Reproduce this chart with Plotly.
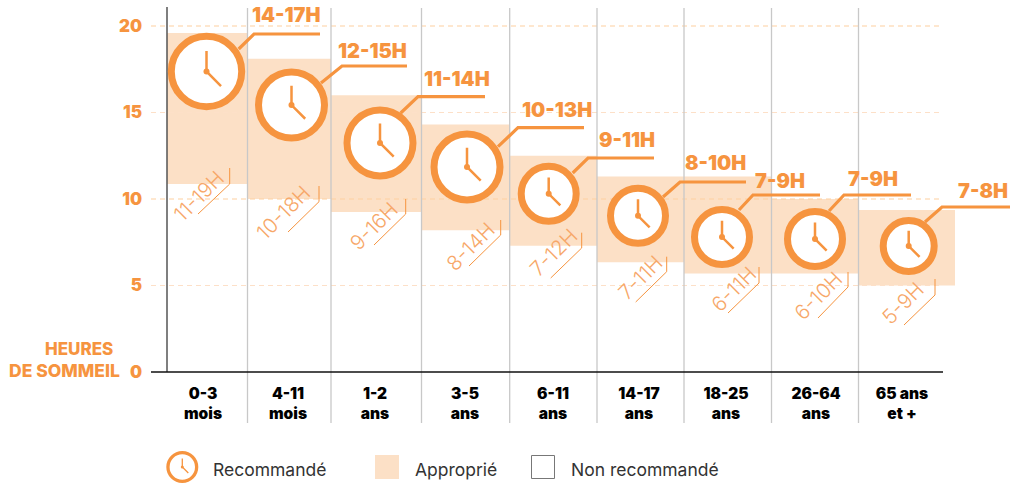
import plotly.graph_objects as go

# ---- data ----
AGE_LABELS = ["0-3<br>mois", "4-11<br>mois", "1-2<br>ans", "3-5<br>ans", "6-11<br>ans",
              "14-17<br>ans", "18-25<br>ans", "26-64<br>ans", "65 ans<br>et +"]
APPROP_LOW = [10.87, 10.0, 9.25, 8.2, 7.3, 6.35, 5.7, 5.7, 5.0]
APPROP_HIGH = [19.6, 18.1, 16.0, 14.3, 12.5, 11.3, 11.3, 10.0, 9.36]
APPROP_TEXT = ["11-19H", "10-18H", "9-16H", "8-14H", "7-12H", "7-11H", "6-11H", "6-10H", "5-9H"]
REC_TEXT = ["14-17H", "12-15H", "11-14H", "10-13H", "9-11H", "8-10H", "7-9H", "7-9H", "7-8H"]
REC_MARK = [17.37, 15.43, 13.24, 11.85, 10.3, 9.03, 7.8, 7.69, 7.28]
Y_TICKS = [0, 5, 10, 15, 20]

# ---- layout (page pixels) ----
EDGES = [167, 247.5, 331, 421.5, 509.7, 597, 684, 771.5, 858.5, 955]
TICK_X = [203, 288, 375, 465, 553, 639, 726, 816, 902]
CLOCK_X = [206.5, 291.5, 380, 467, 548.7, 638, 722, 815, 908.7]
CLOCK_R = [38.7, 36.5, 36.5, 36.5, 31, 31, 31, 31, 29]
LEADERS = [((238.7, 49), (254, 34), 320), ((321, 83), (342, 66), 407), ((400.7, 113), (418, 96.7), 485),
           ((498, 146.7), (518, 127.7), 584), ((572.7, 173), (588, 158), 654), ((663, 197), (680, 182), 746),
           ((739, 210), (753, 195), 820), ((829, 211), (844, 195), 911), ((925, 222), (942, 207), 1010)]
REC_POS = [(286, 15), (372, 51), (457, 79), (557, 110), (627, 140), (715, 163), (780, 181), (873, 179), (983, 191)]
BRACKETS = [((229.7, 168), (229.7, 184), (198, 214)), ((319, 186), (319, 201.7), (288, 232)),
            ((405.7, 199), (405.7, 214), (374, 245)), ((500.7, 220), (500.7, 235), (469, 266)),
            ((581.7, 232.7), (581.7, 248), (550.7, 278)), ((666.7, 256.7), (666.7, 271.7), (635.7, 302)),
            ((759, 267), (759, 283), (728, 313)), ((848, 272), (848, 287), (818, 318)),
            ((935, 279), (935, 295), (904, 325))]
APPROP_POS = [(198, 196), (283, 212), (373, 226), (470, 246), (553, 252), (640, 277), (733, 289), (818, 295), (902, 303)]

ORANGE = "#F6943F"
BAND = "#FCE0C6"
FONT = "Inter"
Y0, SCALE = 372, 17.3
PAGE_W, PAGE_H = 1013, 486


def H(py):
    return (Y0 - py) / SCALE


fig = go.Figure()
centers = [(EDGES[i] + EDGES[i + 1]) / 2 for i in range(9)]
widths = [EDGES[i + 1] - EDGES[i] for i in range(9)]
fig.add_trace(go.Bar(x=centers, y=[h - l for h, l in zip(APPROP_HIGH, APPROP_LOW)], base=APPROP_LOW,
                     width=widths, marker=dict(color=BAND, line=dict(width=0))))


def line(xs, ys, color, width, dash=None):
    fig.add_trace(go.Scatter(x=xs, y=ys, mode="lines", cliponaxis=False,
                             line=dict(color=color, width=width, dash=dash)))


# gridlines
for t in Y_TICKS[1:]:
    c = "#FDCF9F" if t in (10, 20) else "#FDE0C8"
    line([151, 943], [t, t], c, 1.2, "5px,4px")

# column separators and axes
for x in EDGES[1:-1]:
    line([x, x], [H(423), H(8)], "#C8C8C8", 1.3)
line([167, 167], [0, H(7)], "#555555", 1.5)
line([151, 943], [0, 0], "#111111", 1.5)

# leaders
for s, e, end in LEADERS:
    line([s[0], e[0], end], [H(s[1]), H(e[1]), H(e[1])], ORANGE, 3.2)

# brackets
for a, b, c in BRACKETS:
    line([a[0], b[0], c[0]], [H(a[1]), H(b[1]), H(c[1])], ORANGE, 1)


def clock(cx, cyh, r, lw, hw, dot):
    fig.add_trace(go.Scatter(x=[cx], y=[cyh], mode="markers", cliponaxis=False,
                             marker=dict(symbol="circle", size=2 * r - lw, color="white",
                                         line=dict(color=ORANGE, width=lw))))
    cy = Y0 - cyh * SCALE
    d = 0.375 * r
    line([cx, cx, cx + d], [H(cy - 0.53 * r), cyh, H(cy + d)], ORANGE, hw)
    fig.add_trace(go.Scatter(x=[cx], y=[cyh], mode="markers", cliponaxis=False,
                             marker=dict(size=dot, color=ORANGE)))


for i in range(9):
    clock(CLOCK_X[i], REC_MARK[i], CLOCK_R[i], 7, 2.5, 6)

# legend
clock(182.3, H(467), 16, 3.3, 1.3, 3)
fig.add_trace(go.Scatter(x=[387], y=[H(467)], mode="markers", cliponaxis=False,
                         marker=dict(symbol="square", size=24, color=BAND)))
fig.add_trace(go.Scatter(x=[543], y=[H(467)], mode="markers", cliponaxis=False,
                         marker=dict(symbol="square", size=23, color="white",
                                     line=dict(color="#777777", width=1))))


def label(px, py, text, size, color, weight, angle=0, anchor="center"):
    fig.add_annotation(x=px, y=H(py), xref="x", yref="y", text=text, showarrow=False, xanchor=anchor,
                       yanchor="middle", textangle=angle,
                       font=dict(family=FONT, size=size, color=color, weight=weight))


for (px, py), t in zip(REC_POS, REC_TEXT):
    label(px, py, t, 20, ORANGE, 900)
for (px, py), t in zip(APPROP_POS, APPROP_TEXT):
    label(px, py, t, 20.5, "#F7A768", 300, angle=-45)
label(79, 349, "HEURES", 17, ORANGE, 800)
label(64, 370, "DE SOMMEIL", 17.5, ORANGE, 800)
label(211, 469, "Recommandé", 17.5, "#333333", 400, anchor="left")
label(413, 469, "Approprié", 17.5, "#333333", 400, anchor="left")
label(569, 469, "Non recommandé", 17.5, "#333333", 400, anchor="left")

fig.update_layout(
    width=PAGE_W, height=PAGE_H, autosize=False, showlegend=False,
    margin=dict(l=0, r=0, t=0, b=0, pad=0),
    paper_bgcolor="white", plot_bgcolor="white",
    xaxis=dict(range=[0, PAGE_W], domain=[0, 1], anchor="free",
               position=(PAGE_H - Y0) / PAGE_H,
               tickmode="array", tickvals=TICK_X, ticktext=AGE_LABELS,
               showgrid=False, zeroline=False, showline=False, ticks="", ticklabelstandoff=10,
               tickfont=dict(family=FONT, size=15.5, color="#000000", weight=900)),
    yaxis=dict(range=[H(PAGE_H), H(0)], domain=[0, 1], anchor="free",
               position=EDGES[0] / PAGE_W,
               tickmode="array", tickvals=Y_TICKS, showgrid=False, zeroline=False,
               showline=False, ticks="", ticklabelstandoff=25,
               tickfont=dict(family=FONT, size=17, color=ORANGE, weight=900)),
)
fig.write_html("out.html", config=dict(displayModeBar=False),
               post_script="document.body.style.margin='0';document.documentElement.style.overflow='hidden';")
